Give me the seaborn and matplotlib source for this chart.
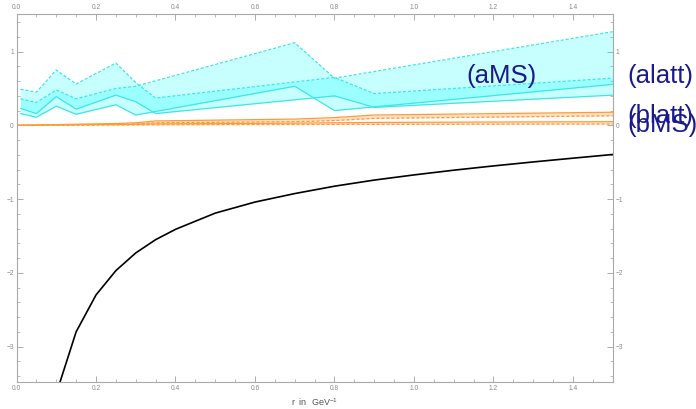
import numpy as np
import pandas as pd
import matplotlib
matplotlib.use("Agg")
import matplotlib.pyplot as plt
from matplotlib.ticker import MultipleLocator, FixedLocator, FixedFormatter
import seaborn as sns

# ---------------- data ----------------
r_pot = [0.1, 0.15, 0.2, 0.25, 0.3, 0.35, 0.4, 0.5, 0.6, 0.7, 0.8, 0.9, 1.0, 1.1, 1.2, 1.3, 1.4, 1.5]
v_pot = [-3.64, -2.80, -2.30, -1.97, -1.73, -1.55, -1.41, -1.19, -1.04, -0.925, -0.825, -0.742,
         -0.672, -0.608, -0.55, -0.496, -0.445, -0.395]

# cyan band 1
r_a1 = [0.01, 0.05, 0.1, 0.15, 0.25, 0.3, 0.7, 0.8, 1.5]
a1_hi = [0.36, 0.31, 0.48, 0.36, 0.50, 0.53, 1.12, 0.64, 1.27]
a1_lo = [0.16, 0.11, 0.26, 0.15, 0.28, 0.14, 0.53, 0.20, 0.556]
# cyan band 2
r_a2 = [0.01, 0.05, 0.1, 0.15, 0.25, 0.3, 0.35, 0.8, 0.9, 1.5]
a2_hi = [0.49, 0.45, 0.75, 0.56, 0.845, 0.58, 0.37, 0.65, 0.43, 0.64]
a2_lo = [0.23, 0.16, 0.39, 0.22, 0.41, 0.32, 0.16, 0.40, 0.244, 0.41]

# orange bands
r_b = [0.0, 0.05, 0.1, 0.15, 0.25, 0.3, 0.35, 0.7, 0.8, 0.9, 1.5]
b1_hi = [0.0, 0.005, 0.01, 0.015, 0.025, 0.035, 0.06, 0.085, 0.105, 0.14, 0.178]
b1_lo = [0.0, 0.003, 0.006, 0.01, 0.015, 0.02, 0.035, 0.05, 0.065, 0.095, 0.13]
b2_hi = [0.0, 0.003, 0.005, 0.008, 0.012, 0.015, 0.02, 0.03, 0.035, 0.04, 0.05]
b2_lo = [0.0, 0.001, 0.002, 0.003, 0.005, 0.006, 0.008, 0.012, 0.013, 0.014, 0.018]

labels = ["(aMS)", "(alatt)", "(blatt)", "(bMS)"]
x_ticks = [0.0, 0.2, 0.4, 0.6, 0.8, 1.0, 1.2, 1.4]
x_ticklabels = ["0.0", "0.2", "0.4", "0.6", "0.8", "1.0", "1.2", "1.4"]
y_ticks = [1, 0, -1, -2, -3]
y_ticklabels = ["1", "0", "\u22121", "\u22122", "\u22123"]

# ---------------- style ----------------
sns.set_style("white")
plt.rcParams["font.family"] = ["Liberation Sans", "DejaVu Sans"]
plt.rcParams["mathtext.default"] = "regular"

fig = plt.figure(figsize=(6.96, 4.09), dpi=100)
ax = fig.add_axes([16.5 / 696, 1 - 382 / 409, (612.7 - 16.5) / 696, (382 - 14) / 409])

CYAN_FILL = (0.0, 1.0, 1.0)
CYAN_LINE = "#3fe6e6"
ORANGE_FILL = (1.0, 0.55, 0.1)
ORANGE_LINE = "#ff9a3a"
dash = (0, (2.5, 1.5))

# fills
ax.fill_between(r_a1, a1_lo, a1_hi, color=CYAN_FILL, alpha=0.22, lw=0)
ax.fill_between(r_a2, a2_lo, a2_hi, color=CYAN_FILL, alpha=0.22, lw=0)
ax.fill_between(r_b, b1_lo, b1_hi, color=ORANGE_FILL, alpha=0.25, lw=0)
ax.fill_between(r_b, b2_lo, b2_hi, color=ORANGE_FILL, alpha=0.25, lw=0)

# band edge lines
def line(x, y, color, ls, lw):
    df = pd.DataFrame({"r": x, "v": y})
    sns.lineplot(data=df, x="r", y="v", ax=ax, color=color, linestyle=ls, lw=lw,
                 estimator=None, sort=False)

line(r_a1, a1_hi, CYAN_LINE, dash, 0.9)
line(r_a1, a1_lo, CYAN_LINE, "-", 0.9)
line(r_a2, a2_hi, CYAN_LINE, dash, 0.9)
line(r_a2, a2_lo, CYAN_LINE, "-", 0.9)
line(r_b, b1_hi, ORANGE_LINE, "-", 0.9)
line(r_b, b1_lo, ORANGE_LINE, dash, 0.9)
line(r_b, b2_hi, ORANGE_LINE, "-", 0.9)
line(r_b, b2_lo, ORANGE_LINE, dash, 0.9)

# potential curve
line(r_pot, v_pot, "black", "-", 1.2)

ax.set_xlim(0, 1.5)
ax.set_ylim(-3.48, 1.51)

# frame & ticks
for s in ax.spines.values():
    s.set_color("#a8a8a8")
    s.set_linewidth(0.8)
ax.xaxis.set_major_locator(FixedLocator(x_ticks))
ax.xaxis.set_major_formatter(FixedFormatter(x_ticklabels))
ax.xaxis.set_minor_locator(MultipleLocator(0.05))
ax.yaxis.set_major_locator(FixedLocator(y_ticks))
ax.yaxis.set_major_formatter(FixedFormatter(y_ticklabels))
ax.yaxis.set_minor_locator(MultipleLocator(0.2))
ax.tick_params(which="both", direction="in", top=True, right=True, bottom=True, left=True,
               labeltop=True, labelright=True, labelbottom=True, labelleft=True,
               color="#a0a0a0", labelcolor="#8a8a8a", labelsize=4.8, pad=2)
ax.tick_params(which="major", length=4, width=0.6)
ax.tick_params(which="minor", length=2, width=0.5)

ax.set_xlabel(r"r  in  GeV$^{-1}$", fontsize=6.5, color="#555555", labelpad=3)
ax.set_ylabel("")

# labels
lab_kw = dict(fontsize=18.5, color="#1a1a8c", ha="left", va="center", clip_on=False)
ax.text(1.133, 0.676, labels[0], **lab_kw)
ax.text(1.536, 0.676, labels[1], **lab_kw)
ax.text(1.536, 0.133, labels[2], **lab_kw)
ax.text(1.536, 0.011, labels[3], **lab_kw)

fig.savefig("out.png", dpi=100)
